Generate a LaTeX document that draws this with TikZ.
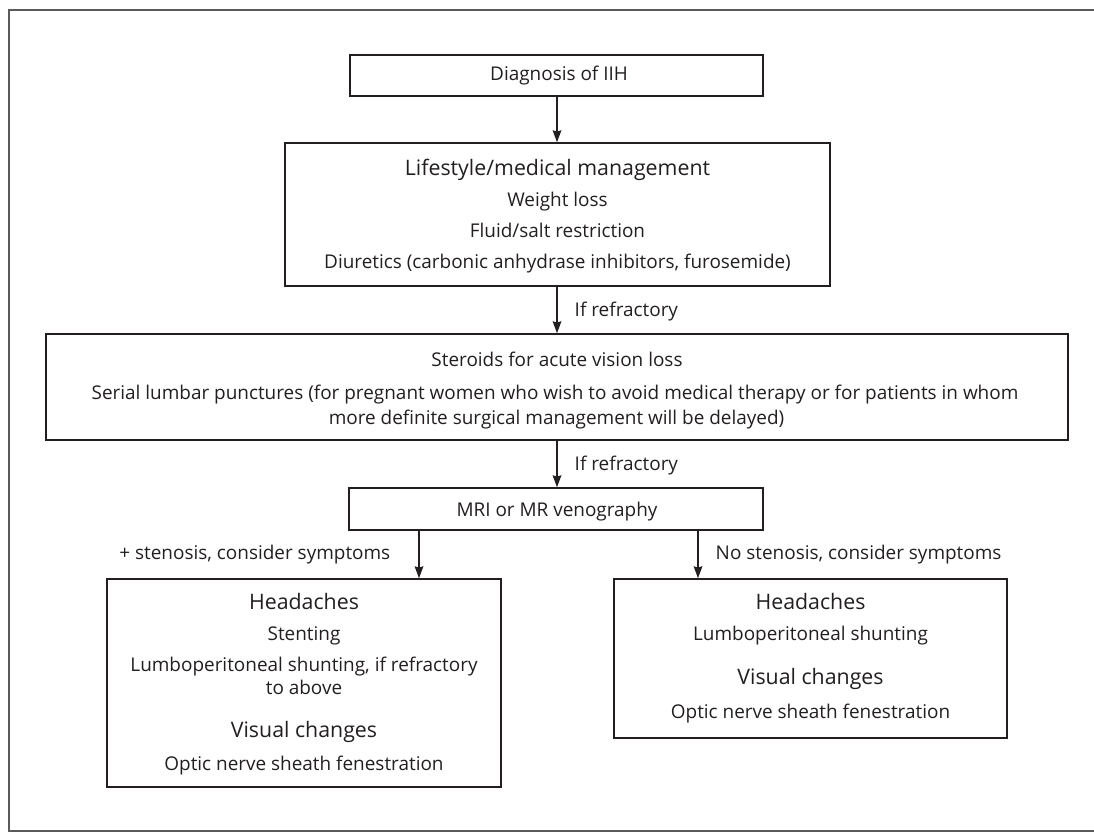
\documentclass[tikz,border=0pt]{standalone}
\usepackage{fontspec}
\setmainfont{Open Sans}
\usetikzlibrary{arrows.meta}
\definecolor{ink}{HTML}{231F20}
\definecolor{frame}{HTML}{5A5A5A}
\begin{document}
\begin{tikzpicture}[x=0.75pt,y=-0.75pt,
  box/.style={draw=ink,line width=1.1pt,inner sep=0pt,fill=white},
  hd/.style={font=\fontsize{16}{19}\selectfont,anchor=mid,inner sep=0pt,text=ink,yshift=-2.25pt},
  tx/.style={font=\fontsize{14.2}{17}\selectfont,anchor=mid,inner sep=0pt,text=ink,yshift=-2.25pt},
  arr/.style={draw=ink,line width=1.1pt,-{Stealth[length=9pt,width=6.5pt,inset=1pt]}},
  lbl/.style={font=\fontsize{14.2}{17}\selectfont,inner sep=0pt,text=ink}]
\useasboundingbox (0,0) rectangle (1094,832);
\draw[frame,line width=1.6pt] (1094,10) -- (9,10) -- (9,831) -- (1094,831);

% boxes
\node[box,minimum width=309.75pt,minimum height=30.75pt] (diag) at (556.5,75.5) {};
\node[box,minimum width=408.75pt,minimum height=107.25pt] (life) at (557.5,214.5) {};
\node[box,minimum width=766.5pt,minimum height=79.5pt] (ster) at (557,387) {};
\node[box,minimum width=310.5pt,minimum height=31.5pt] (mri) at (556,509) {};
\node[box,minimum width=295.5pt,minimum height=156pt] (lbox) at (304,683) {};
\node[box,minimum width=294.75pt,minimum height=119.25pt] (rbox) at (810.5,658.5) {};

% texts
\node[tx] (t0) at (559,74) {Diagnosis of IIH};
\node[hd] (t1) at (557.5,169) {Lifestyle/medical management};
\node[tx] (t2) at (557.5,200) {Weight loss};
\node[tx] (t3) at (557.5,231) {Fluid/salt restriction};
\node[tx] (t4) at (557.5,262) {Diuretics (carbonic anhydrase inhibitors, furosemide)};
\node[tx] (t5) at (557,360) {Steroids for acute vision loss};
\node[tx] (t6) at (555,393) {Serial lumbar punctures (for pregnant women who wish to avoid medical therapy or for patients in whom};
\node[tx] (t7) at (556.5,418) {more definite surgical management will be delayed)};
\node[tx] (t8) at (557,510) {MRI or MR venography};
\node[hd] (l1) at (304,603) {Headaches};
\node[tx] (l2) at (304,634) {Stenting};
\node[tx] (l3) at (304,665) {Lumboperitoneal shunting, if refractory};
\node[tx] (l4) at (304,688) {to above};
\node[hd] (l5) at (304,731) {Visual changes};
\node[tx] (l6) at (304,764) {Optic nerve sheath fenestration};
\node[hd] (r1) at (810.5,603) {Headaches};
\node[tx] (r2) at (810.5,634) {Lumboperitoneal shunting};
\node[hd] (r3) at (810.5,678) {Visual changes};
\node[tx] (r4) at (810.5,712) {Optic nerve sheath fenestration};

% connectors
\coordinate (mx) at (557,0);
\coordinate (lx) at (419,0);
\coordinate (rx) at (698,0);
\draw[arr] (mx |- diag.south) -- (mx |- life.north);
\draw[arr] (mx |- life.south) -- node[lbl,anchor=west,xshift=12.75pt,yshift=-1pt] (if1) {If refractory} (mx |- ster.north);
\draw[arr] (mx |- ster.south) -- node[lbl,anchor=west,xshift=12.75pt,yshift=-1pt] (if2) {If refractory} (mx |- mri.north);
\draw[arr] (lx |- mri.south) -- node[lbl,anchor=east,xshift=-21pt,yshift=0pt] (sl) {+ stenosis, consider symptoms} (lx |- lbox.north);
\draw[arr] (rx |- mri.south) -- node[lbl,anchor=west,xshift=12.75pt,yshift=0pt] (sr) {No stenosis, consider symptoms} (rx |- rbox.north);
\end{tikzpicture}
\end{document}
